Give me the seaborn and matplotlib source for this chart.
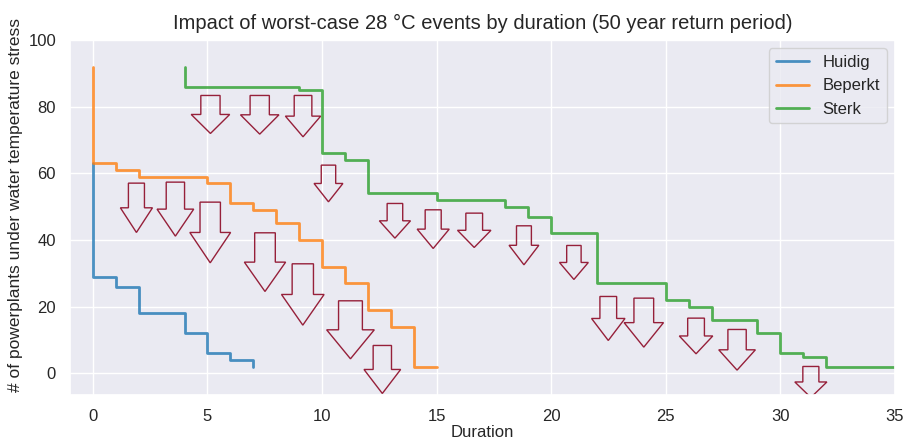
import pandas as pd
import matplotlib
matplotlib.use("Agg")
import matplotlib.pyplot as plt
import seaborn as sns

# step data (duration vs number of powerplants)
huidig_x = [0, 0, 1, 2, 3, 4, 5, 6, 7]
huidig_y = [63, 29, 26, 18, 18, 12, 6, 4, 2]

beperkt_x = [0, 0, 1, 2, 3, 4, 5, 6, 7, 8, 9, 10, 11, 12, 13, 14, 15]
beperkt_y = [92, 63, 61, 59, 59, 59, 57, 51, 49, 45, 40, 32, 27, 19, 14, 2, 2]

sterk_x = [4, 4, 5, 6, 7, 8, 9, 10, 11, 12, 13, 14, 15, 16, 17, 18, 19, 20,
           21, 22, 23, 24, 25, 26, 27, 28, 29, 30, 31, 32, 33, 34, 35]
sterk_y = [92, 86, 86, 86, 86, 86, 85, 66, 64, 54, 54, 54, 52, 52, 52, 50, 47, 42,
           42, 27, 27, 27, 22, 20, 16, 16, 12, 6, 5, 2, 2, 2, 2]

# arrows: position, tail height, half length, shaft width
arrow_x = [5.13, 7.28, 9.17, 1.90, 3.60, 5.12, 7.51, 9.16, 11.24, 12.63, 10.28,
           13.18, 14.85, 16.64, 18.81, 20.99, 22.49, 24.04, 26.32, 28.11, 31.33]
arrow_y = [83.4, 83.4, 83.4, 57.1, 57.4, 51.4, 42.2, 32.9, 21.8, 8.4, 62.5,
           51.0, 49.1, 48.1, 44.3, 38.4, 23.1, 22.6, 16.6, 13.2, 2.1]
arrow_h = [5.7, 5.8, 6.2, 7.4, 8.1, 9.1, 8.8, 9.2, 8.7, 7.2, 5.5,
           5.2, 5.8, 5.15, 5.85, 5.1, 6.6, 7.35, 5.35, 6.1, 4.65]
arrow_w = [0.84, 0.84, 0.77, 0.70, 0.80, 0.89, 0.90, 0.93, 1.04, 0.80, 0.63,
           0.68, 0.70, 0.73, 0.65, 0.63, 0.73, 0.86, 0.73, 0.80, 0.70]

sns.set_theme(style="darkgrid", palette="tab10")
plt.rcParams['font.family'] = ['Liberation Sans', 'DejaVu Sans']

fig, ax = plt.subplots(figsize=(9.04, 4.41), dpi=100)
fig.subplots_adjust(left=0.0774, right=0.990, top=0.909, bottom=0.104)

for name, xs, ys in [("Huidig", huidig_x, huidig_y),
                     ("Beperkt", beperkt_x, beperkt_y),
                     ("Sterk", sterk_x, sterk_y)]:
    df = pd.DataFrame({"Duration": xs, "n": ys})
    sns.lineplot(data=df, x="Duration", y="n", label=name, ax=ax,
                 estimator=None, sort=False, drawstyle="steps-post",
                 linewidth=2, alpha=0.8)

for x, y, h, w in zip(arrow_x, arrow_y, arrow_h, arrow_w):
    ax.arrow(x, y, 0, -h, width=w, head_width=2 * w, head_length=h,
             facecolor="none", edgecolor="#96203a", linewidth=1)

ax.set_xlim(-1, 35)
ax.set_ylim(-6.5, 100)
ax.set_title("Impact of worst-case 28 °C events by duration (50 year return period)",
             fontsize=14.5, pad=8)
ax.set_xlabel("Duration", fontsize=12, labelpad=1)
ax.set_ylabel("# of powerplants under water temperature stress", fontsize=12.5, y=0.535)
ax.tick_params(labelsize=12, pad=4)
ax.legend(loc="upper right", fontsize=12)

fig.savefig("out.png", dpi=100)
